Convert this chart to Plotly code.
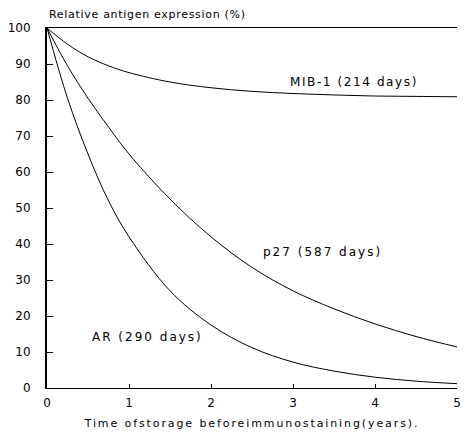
import plotly.graph_objects as go

years = [0, 0.25, 0.5, 0.75, 1.0, 1.5, 2.0, 2.5, 3.0, 3.5, 4.0, 4.5, 5.0]
mib1 = [100, 95.5, 92.0, 89.5, 87.6, 85.0, 83.4, 82.4, 81.8, 81.4, 81.1, 81.0, 80.9]
p27 = [100, 89.5, 80.5, 72.5, 65.0, 52.5, 42.0, 33.5, 27.0, 22.0, 17.8, 14.3, 11.4]
ar = [100, 80.5, 65.0, 52.0, 42.0, 27.0, 17.5, 11.2, 7.2, 4.7, 3.0, 1.9, 1.2]

labels = ["MIB-1 (214 days)", "p27 (587 days)", "AR (290 days)"]
label_x = [3.74, 3.36, 1.22]
label_y = [85, 37.8, 14.2]
label_spacing = [1.6, 2.0, 2.0]

xticks = [0, 1, 2, 3, 4, 5]
yticks = [0, 10, 20, 30, 40, 50, 60, 70, 80, 90, 100]

FONT = "DejaVu Sans"


def spaced(s, px):
    return f'<span style="letter-spacing:{px}px">{s}</span>'


fig = go.Figure()
for ys in (mib1, p27, ar):
    fig.add_trace(go.Scatter(x=years, y=ys, mode="lines",
                             line=dict(color="black", width=1, shape="spline"),
                             showlegend=False, hoverinfo="skip"))

for t, lx, ly, sp in zip(labels, label_x, label_y, label_spacing):
    fig.add_annotation(x=lx, y=ly, text=spaced(t, sp), showarrow=False,
                       font=dict(family=FONT, size=12, color="black"))

fig.add_annotation(xref="paper", yref="paper", x=0, y=1.0, yshift=14,
                   xanchor="left", yanchor="middle",
                   text=spaced("Relative antigen expression (%)", 0.7), showarrow=False,
                   font=dict(family=FONT, size=11, color="black"))

fig.update_layout(
    width=465, height=435,
    margin=dict(l=47, r=4, t=28, b=47),
    paper_bgcolor="white", plot_bgcolor="white",
    font=dict(family=FONT, size=12, color="black"),
    xaxis=dict(range=[0, 5], tickvals=xticks, ticktext=[str(v) for v in xticks],
               ticks="inside", ticklen=4, tickcolor="black", tickwidth=1,
               showline=True, linecolor="black", linewidth=1, mirror=True,
               showgrid=False, zeroline=False, ticklabelstandoff=4,
               title=dict(text=spaced("Time ofstorage beforeimmunostaining(years).", 1.9),
                          font=dict(family=FONT, size=11), standoff=9)),
    yaxis=dict(range=[0, 100], tickvals=yticks, ticktext=[str(v) for v in yticks],
               ticks="inside", ticklen=6, tickcolor="black", tickwidth=1,
               showline=True, linecolor="black", linewidth=2,
               showgrid=False, zeroline=False, ticklabelstandoff=12),
)

fig.write_html("out.html")
